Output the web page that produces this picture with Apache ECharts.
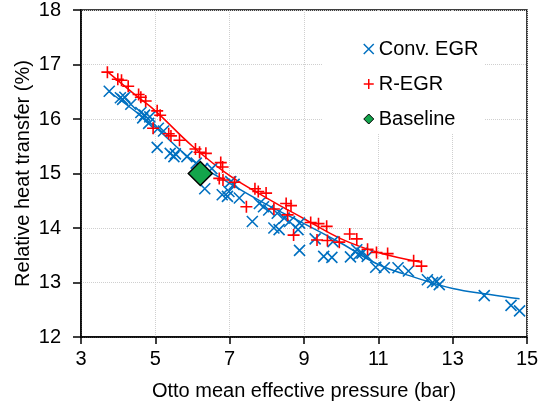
<!DOCTYPE html>
<html>
<head>
<meta charset="utf-8">
<script src="https://cdn.jsdelivr.net/npm/echarts@6/dist/echarts.min.js"></script>
<style>html,body{margin:0;padding:0;background:#fff}#c{width:542px;height:413px}</style>
</head>
<body>
<div id="c"></div>
<script>
const xTicks = [3, 5, 7, 9, 11, 13, 15];
const yTicks = [12, 13, 14, 15, 16, 17, 18];

const convX = [3.76,4.06,4.12,4.18,4.34,4.61,4.71,4.66,4.85,4.82,5.08,5.22,5.05,5.40,5.54,5.50,5.85,6.10,6.27,6.52,6.33,6.80,6.94,6.98,7.03,7.12,7.26,7.61,7.80,7.91,8.05,8.19,8.33,8.28,8.47,8.61,8.84,8.88,8.88,9.30,9.53,9.75,9.78,10.25,10.42,10.46,10.56,10.70,10.93,11.16,11.53,11.81,12.32,12.46,12.57,12.64,13.85,14.57,14.80];
const convY = [16.51,16.39,16.36,16.40,16.27,16.12,16.07,16.02,16.04,15.92,15.83,15.78,15.48,15.37,15.36,15.31,15.31,15.19,15.09,15.09,14.72,14.61,14.58,14.67,14.85,14.80,14.55,14.12,14.45,14.39,14.33,14.00,13.97,14.27,14.18,14.12,13.97,14.09,13.59,13.80,13.48,13.46,13.75,13.47,13.60,13.51,13.54,13.48,13.28,13.27,13.27,13.21,13.05,13.00,13.02,12.96,12.76,12.58,12.48];

const regrX = [3.71,3.99,4.09,4.27,4.55,4.61,4.74,5.05,5.13,4.94,5.36,5.42,5.65,6.08,6.19,6.36,6.76,6.81,6.72,6.82,7.13,7.68,7.77,7.98,7.45,8.19,8.52,8.65,8.56,8.72,9.18,9.39,9.61,9.35,9.63,9.95,10.23,10.42,10.71,10.95,11.25,11.95,12.16];
const regrY = [16.86,16.73,16.71,16.60,16.45,16.40,16.33,16.15,16.07,15.83,15.73,15.69,15.61,15.45,15.39,15.37,15.20,15.12,14.91,14.88,14.84,14.72,14.67,14.64,14.39,14.35,14.45,14.41,14.24,13.87,14.10,14.08,14.03,13.78,13.77,13.74,13.89,13.80,13.61,13.55,13.53,13.40,13.30];

const baseX = [6.21];
const baseY = [15.0];

const convFitX = [3.76,4.5,5,6,7,8,9,10,11,12,13,14,14.8];
const convFitY = [16.50,16.12,15.85,15.24,14.82,14.43,14.08,13.72,13.33,13.09,12.89,12.78,12.70];
const regrFitX = [3.71,4.5,5,6,7,8,9,10,11,12.16];
const regrFitY = [16.87,16.42,16.15,15.50,14.96,14.55,14.17,13.80,13.55,13.37];

const zip = (a, b) => a.map((v, i) => [v, b[i]]);

const BLUE = '#0070C0', RED = '#FF0000', GREEN = '#13A54B';
const FONT = 'Liberation Sans, Arial, sans-serif';
const crossPath = 'path://M0,0L10,10M10,0L0,10';
const plusPath = 'path://M5,0L5,10M0,5L10,5';

const chart = echarts.init(document.getElementById('c'), null, {renderer: 'canvas'});
chart.setOption({
  animation: false,
  backgroundColor: '#fff',
  textStyle: {fontFamily: FONT},
  grid: {left: 81, right: 15, top: 10, bottom: 76, show: true, borderColor: '#000', borderWidth: 1.5, backgroundColor: 'transparent'},
  xAxis: {
    type: 'value', min: 3, max: 15, interval: 1,
    name: 'Otto mean effective pressure (bar)', nameLocation: 'middle', nameGap: 44,
    nameTextStyle: {fontSize: 20, color: '#000', fontFamily: FONT},
    axisLine: {show: true, lineStyle: {color: '#000', width: 1.5}},
    axisTick: {show: true, inside: false, length: 7, lineStyle: {color: '#000', width: 1.5}, customValues: xTicks},
    axisLabel: {fontSize: 20, color: '#000', margin: 12, fontFamily: FONT, customValues: xTicks},
    splitLine: {show: true, lineStyle: {color: '#cfcfcf', type: 'dotted', width: 1}}
  },
  yAxis: {
    type: 'value', min: 12, max: 18, interval: 1,
    name: 'Relative heat transfer (%)', nameLocation: 'middle', nameGap: 48, nameMoveOverlap: false,
    nameTextStyle: {fontSize: 20, color: '#000', fontFamily: FONT},
    axisLine: {show: true, lineStyle: {color: '#000', width: 1.5}},
    axisTick: {show: true, inside: false, length: 8, lineStyle: {color: '#000', width: 1.5}, customValues: yTicks},
    axisLabel: {fontSize: 20, color: '#000', margin: 20, fontFamily: FONT, customValues: yTicks},
    splitLine: {show: true, lineStyle: {color: '#cfcfcf', type: 'dotted', width: 1}}
  },
  legend: {
    orient: 'vertical', left: 323, top: 11,
    padding: [28, 6, 4, 40],
    backgroundColor: '#fff',
    itemWidth: 10, itemHeight: 10, itemGap: 15,
    textStyle: {fontSize: 20, color: '#000', fontFamily: FONT, lineHeight: 20},
    data: [
      {name: 'Conv. EGR', icon: crossPath, itemStyle: {color: 'transparent', borderColor: BLUE, borderWidth: 1.5}},
      {name: 'R-EGR', icon: plusPath, itemStyle: {color: 'transparent', borderColor: RED, borderWidth: 1.5}},
      {name: 'Baseline', icon: 'diamond', itemStyle: {color: GREEN, borderColor: '#000', borderWidth: 1}}
    ]
  },
  series: [
    {name: 'convFit', type: 'line', data: zip(convFitX, convFitY), smooth: 0.4, showSymbol: false, symbol: 'none',
     lineStyle: {color: BLUE, width: 1.5}, itemStyle: {color: BLUE}, z: 3, silent: true},
    {name: 'regrFit', type: 'line', data: zip(regrFitX, regrFitY), smooth: 0.4, showSymbol: false, symbol: 'none',
     lineStyle: {color: RED, width: 1.5}, itemStyle: {color: RED}, z: 3, silent: true},
    {name: 'Conv. EGR', type: 'scatter', data: zip(convX, convY), symbol: crossPath, symbolSize: 11,
     itemStyle: {color: 'transparent', borderColor: BLUE, borderWidth: 1.6, opacity: 1}, z: 4},
    {name: 'R-EGR', type: 'scatter', data: zip(regrX, regrY), symbol: plusPath, symbolSize: 12,
     itemStyle: {color: 'transparent', borderColor: RED, borderWidth: 1.6, opacity: 1}, z: 4},
    {name: 'Baseline', type: 'scatter', data: zip(baseX, baseY), symbol: 'diamond', symbolSize: 24,
     itemStyle: {color: GREEN, borderColor: '#000', borderWidth: 1.5, opacity: 1}, z: 5}
  ]
});
</script>
</body>
</html>
